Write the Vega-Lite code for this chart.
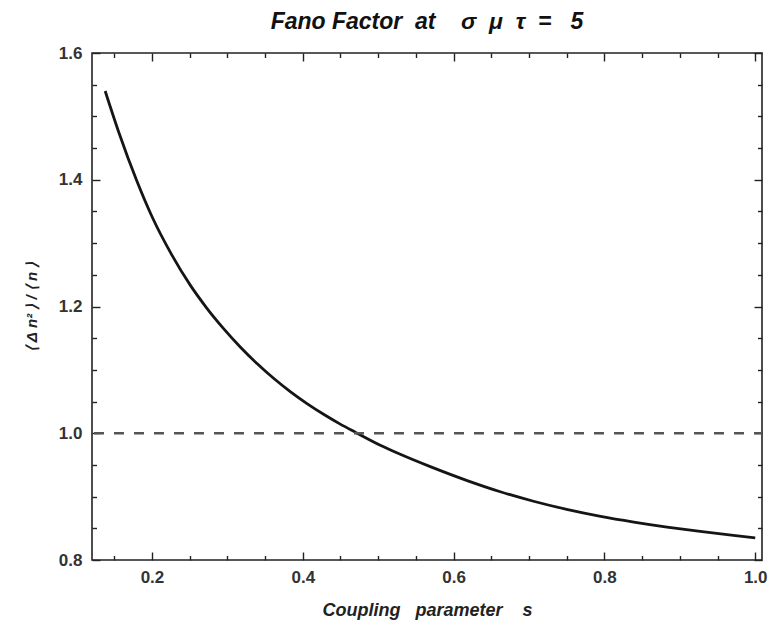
{
  "$schema": "https://vega.github.io/schema/vega-lite/v6.json",
  "width": 670,
  "height": 507,
  "autosize": {"type": "none"},
  "padding": {"left": 92, "top": 53, "right": 11, "bottom": 72},
  "background": "white",
  "title": {
    "text": "Fano Factor\u00a0\u00a0at\u00a0\u00a0\u00a0\u00a0σ\u00a0\u00a0μ\u00a0\u00a0τ\u00a0\u00a0=\u00a0\u00a0\u00a05",
    "anchor": "middle",
    "frame": "group",
    "offset": 10,
    "font": "Liberation Sans",
    "fontSize": 23,
    "fontStyle": "italic",
    "fontWeight": "bold",
    "color": "#111"
  },
  "config": {
    "view": {"stroke": "#222", "strokeWidth": 1.6},
    "axis": {
      "grid": false,
      "domain": false,
      "tickColor": "#222",
      "tickWidth": 1.4,
      "labelFont": "Liberation Sans",
      "labelFontSize": 17,
      "labelFontWeight": "bold",
      "labelColor": "#333",
      "titleFont": "Liberation Sans",
      "titleFontSize": 16,
      "titleFontWeight": "bold",
      "titleFontStyle": "italic",
      "titleColor": "#222"
    }
  },
  "datasets": {
    "curve": [
      {"s": 0.138, "F": 1.540},
      {"s": 0.156, "F": 1.475},
      {"s": 0.180, "F": 1.398},
      {"s": 0.200, "F": 1.342},
      {"s": 0.2265, "F": 1.2811},
      {"s": 0.2508, "F": 1.2337},
      {"s": 0.2729, "F": 1.1972},
      {"s": 0.295, "F": 1.1652},
      {"s": 0.3171, "F": 1.1362},
      {"s": 0.3393, "F": 1.1100},
      {"s": 0.3613, "F": 1.0867},
      {"s": 0.3834, "F": 1.0657},
      {"s": 0.4056, "F": 1.0468},
      {"s": 0.4276, "F": 1.0299},
      {"s": 0.4497, "F": 1.0144},
      {"s": 0.4696, "F": 1.0017},
      {"s": 0.5028, "F": 0.9811},
      {"s": 0.5293, "F": 0.9668},
      {"s": 0.5691, "F": 0.9473},
      {"s": 0.618, "F": 0.9253},
      {"s": 0.662, "F": 0.9077},
      {"s": 0.706, "F": 0.8927},
      {"s": 0.750, "F": 0.8799},
      {"s": 0.795, "F": 0.8689},
      {"s": 0.839, "F": 0.8599},
      {"s": 0.883, "F": 0.8520},
      {"s": 0.927, "F": 0.8450},
      {"s": 0.971, "F": 0.8388},
      {"s": 1.0, "F": 0.8350}
    ],
    "ref": [{"level": 1.0}]
  },
  "resolve": {"axis": {"x": "independent", "y": "independent"}},
  "layer": [
    {
      "data": {"name": "curve"},
      "mark": {"type": "line", "color": "#151515", "strokeWidth": 2.8, "interpolate": "monotone"},
      "encoding": {
        "x": {
          "field": "s", "type": "quantitative",
          "scale": {"domain": [0.1205, 1.009], "nice": false, "zero": false},
          "axis": {
            "orient": "bottom",
            "values": [0.2, 0.4, 0.6, 0.8, 1.0],
            "format": ".1f",
            "ticks": false,
            "tickSize": 0,
            "labelPadding": 9,
            "labelFlush": false,
            "title": "Coupling\u00a0\u00a0\u00a0parameter\u00a0\u00a0\u00a0\u00a0s",
            "titleFontSize": 18,
            "titlePadding": 16
          }
        },
        "y": {
          "field": "F", "type": "quantitative",
          "scale": {"domain": [0.8, 1.6], "nice": false, "zero": false},
          "axis": {
            "orient": "left",
            "values": [0.8, 1.0, 1.2, 1.4, 1.6],
            "format": ".1f",
            "ticks": false,
            "tickSize": 0,
            "labelPadding": 10,
            "labelFlush": false,
            "title": "⟨\u00a0Δ\u00a0n²\u00a0⟩\u00a0/\u00a0⟨\u00a0n\u00a0⟩",
            "titleFontSize": 15,
            "titlePadding": 19
          }
        }
      }
    },
    {
      "data": {"name": "ref"},
      "mark": {"type": "rule", "color": "#555", "strokeWidth": 2.6, "strokeDash": [10, 10], "strokeDashOffset": 2},
      "encoding": {
        "y": {
          "field": "level", "type": "quantitative",
          "scale": {"domain": [0.8, 1.6], "nice": false, "zero": false},
          "axis": {
            "orient": "right",
            "offset": -670,
            "values": [0.8, 1.0, 1.2, 1.4, 1.6],
            "tickSize": 8,
            "labels": false,
            "title": null
          }
        }
      }
    },
    {
      "data": {"name": "curve"},
      "mark": {"type": "point", "opacity": 0},
      "encoding": {
        "x": {
          "field": "s", "type": "quantitative",
          "scale": {"domain": [0.1205, 1.009], "nice": false, "zero": false},
          "axis": {
            "orient": "top",
            "offset": -507,
            "values": [0.2, 0.4, 0.6, 0.8, 1.0],
            "tickSize": 8,
            "labels": false,
            "title": null
          }
        },
        "y": {
          "field": "F", "type": "quantitative",
          "scale": {"domain": [0.8, 1.6], "nice": false, "zero": false},
          "axis": {
            "orient": "right",
            "offset": -670,
            "values": [0.85, 0.9, 0.95, 1.05, 1.1, 1.15, 1.25, 1.3, 1.35, 1.45, 1.5, 1.55],
            "tickSize": 4.5,
            "labels": false,
            "title": null
          }
        }
      }
    },
    {
      "data": {"name": "curve"},
      "mark": {"type": "point", "opacity": 0},
      "encoding": {
        "x": {
          "field": "s", "type": "quantitative",
          "scale": {"domain": [0.1205, 1.009], "nice": false, "zero": false},
          "axis": {
            "orient": "top",
            "offset": -507,
            "values": [0.15, 0.25, 0.3, 0.35, 0.45, 0.5, 0.55, 0.65, 0.7, 0.75, 0.85, 0.9, 0.95],
            "tickSize": 4.5,
            "labels": false,
            "title": null
          }
        },
        "y": {
          "field": "F", "type": "quantitative",
          "scale": {"domain": [0.8, 1.6], "nice": false, "zero": false},
          "axis": {
            "orient": "left",
            "offset": -670,
            "values": [0.8, 1.0, 1.2, 1.4, 1.6],
            "tickSize": 8,
            "labels": false,
            "title": null
          }
        }
      }
    },
    {
      "data": {"name": "curve"},
      "mark": {"type": "point", "opacity": 0},
      "encoding": {
        "x": {
          "field": "s", "type": "quantitative",
          "scale": {"domain": [0.1205, 1.009], "nice": false, "zero": false},
          "axis": {
            "orient": "bottom",
            "offset": -507,
            "values": [0.2, 0.4, 0.6, 0.8, 1.0],
            "tickSize": 8,
            "labels": false,
            "title": null
          }
        },
        "y": {
          "field": "F", "type": "quantitative",
          "scale": {"domain": [0.8, 1.6], "nice": false, "zero": false},
          "axis": {
            "orient": "left",
            "offset": -670,
            "values": [0.85, 0.9, 0.95, 1.05, 1.1, 1.15, 1.25, 1.3, 1.35, 1.45, 1.5, 1.55],
            "tickSize": 4.5,
            "labels": false,
            "title": null
          }
        }
      }
    },
    {
      "data": {"name": "curve"},
      "mark": {"type": "point", "opacity": 0},
      "encoding": {
        "x": {
          "field": "s", "type": "quantitative",
          "scale": {"domain": [0.1205, 1.009], "nice": false, "zero": false},
          "axis": {
            "orient": "bottom",
            "offset": -507,
            "values": [0.15, 0.25, 0.3, 0.35, 0.45, 0.5, 0.55, 0.65, 0.7, 0.75, 0.85, 0.9, 0.95],
            "tickSize": 4.5,
            "labels": false,
            "title": null
          }
        },
        "y": {
          "field": "F", "type": "quantitative",
          "scale": {"domain": [0.8, 1.6], "nice": false, "zero": false},
          "axis": null
        }
      }
    }
  ]
}
